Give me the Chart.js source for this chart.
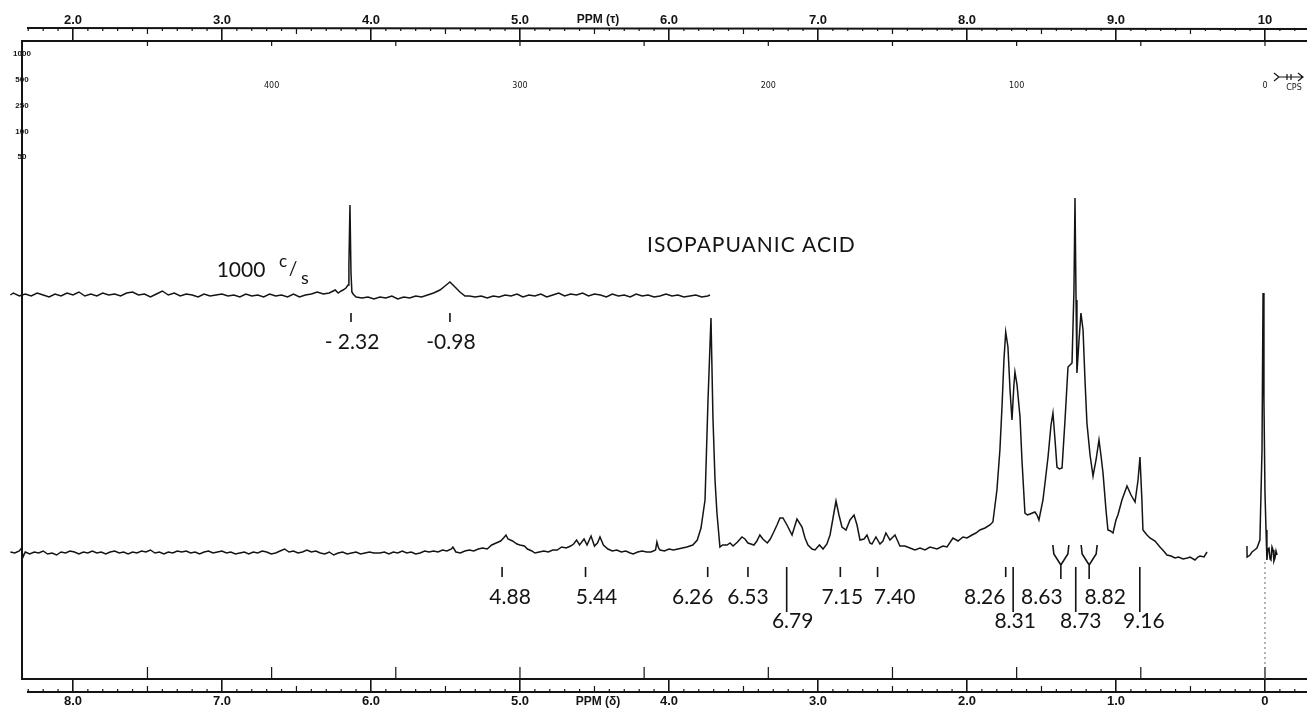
<!DOCTYPE html>
<html>
<head>
<meta charset="utf-8">
<title>Isopapuanic acid NMR</title>
<script src="https://cdn.jsdelivr.net/npm/chart.js@4.4.1/dist/chart.umd.min.js"></script>
<style>
  body { margin: 0; background: #fff; }
  #wrap { width: 1307px; height: 711px; }
</style>
</head>
<body>
<div id="wrap"><canvas id="spectrum"></canvas></div>
<script>
// axis ticks
const deltaTicks = [8, 7, 6, 5, 4, 3, 2, 1, 0];
const deltaTickLabels = ['8.0', '7.0', '6.0', '5.0', '4.0', '3.0', '2.0', '1.0', '0'];
const tauTicks = [2, 3, 4, 5, 6, 7, 8, 9, 10];
const tauTickLabels = ['2.0', '3.0', '4.0', '5.0', '6.0', '7.0', '8.0', '9.0', '10'];
const cpsTicks = [0, 50, 100, 150, 200, 250, 300, 350, 400, 450];
const cpsLabels = [400, 300, 200, 100, 0];
const sweepLabels = ['1000', '500', '250', '100', '50'];

// spectrum, [shift (ppm, delta), intensity]
const mainTrace = [
  [8.42,1],[8.39,0],[8.36,2],[8.345,5],[8.335,-4],[8.32,1],[8.29,-1],[8.26,1],[8.23,0],[8.20,2],
  [8.17,-1],[8.14,0],[8.11,-2],[8.08,1],[8.05,0],[8.02,2],[7.99,1],[7.96,-1],[7.93,1],[7.90,0],
  [7.87,2],[7.84,0],[7.81,1],[7.78,-1],[7.75,1],[7.72,2],[7.69,0],[7.66,1],[7.63,-1],[7.60,1],
  [7.57,0],[7.54,2],[7.51,1],[7.48,3],[7.45,0],[7.42,1],[7.39,-1],[7.36,1],[7.33,0],[7.30,2],
  [7.27,1],[7.24,2],[7.21,0],[7.18,1],[7.15,-1],[7.12,1],[7.09,2],[7.06,0],[7.03,1],[7.00,2],
  [6.97,0],[6.94,1],[6.91,-1],[6.88,0],[6.85,1],[6.82,-1],[6.79,1],[6.76,0],[6.73,2],[6.70,1],
  [6.67,-1],[6.64,0],[6.61,2],[6.58,4],[6.55,1],[6.52,2],[6.49,0],[6.46,1],[6.43,3],[6.40,1],
  [6.37,2],[6.34,0],[6.31,-1],[6.28,1],[6.25,-2],[6.22,0],[6.19,1],[6.16,-1],[6.13,0],[6.10,1],
  [6.07,-1],[6.04,0],[6.01,1],[5.98,0],[5.94,0],[5.91,1],[5.88,-1],[5.85,1],[5.82,0],[5.79,2],
  [5.76,0],[5.73,1],[5.70,-1],[5.67,0],[5.64,2],[5.61,1],[5.58,2],[5.55,1],[5.52,3],[5.49,2],
  [5.46,4],[5.45,6],[5.43,1],[5.40,0],[5.37,2],[5.34,3],[5.31,2],[5.28,4],[5.25,5],[5.22,4],
  [5.19,8],[5.16,10],[5.13,12],[5.11,15],[5.094,18],[5.08,14],[5.05,12],[5.02,9],[5.00,8],[4.97,7],
  [4.95,4],[4.92,2],[4.90,0],[4.87,1],[4.84,2],[4.81,1],[4.78,3],[4.75,3],[4.72,6],[4.69,5],
  [4.66,7],[4.64,9],[4.62,13],[4.60,8],[4.57,14],[4.55,8],[4.523,17],[4.50,7],[4.48,10],[4.463,16],
  [4.44,8],[4.41,4],[4.38,2],[4.35,3],[4.32,1],[4.29,2],[4.26,0],[4.24,-1],[4.21,1],[4.18,2],
  [4.15,1],[4.12,1],[4.09,3],[4.081,11],[4.07,5],[4.06,3],[4.03,2],[4.00,4],[3.97,3],[3.94,4],
  [3.91,5],[3.88,6],[3.84,8],[3.81,13],[3.785,25],[3.758,53],[3.738,153],[3.718,235],[3.705,136],[3.691,73],
  [3.678,40],[3.658,6],[3.64,8],[3.61,8],[3.59,10],[3.57,7],[3.54,11],[3.51,16],[3.49,14],[3.47,10],
  [3.45,9],[3.43,8],[3.41,12],[3.39,18],[3.37,14],[3.34,10],[3.32,14],[3.30,20],[3.275,28],[3.255,35],
  [3.235,35],[3.208,28],[3.174,18],[3.141,34],[3.107,26],[3.087,15],[3.067,8],[3.04,4],[3.02,3],[2.99,8],
  [2.966,4],[2.94,9],[2.919,18],[2.899,35],[2.879,52],[2.859,38],[2.839,26],[2.812,23],[2.785,33],[2.758,38],
  [2.738,28],[2.718,13],[2.691,14],[2.671,18],[2.651,10],[2.638,9],[2.611,16],[2.584,9],[2.564,12],[2.544,20],
  [2.517,13],[2.483,18],[2.45,7],[2.416,7],[2.383,5],[2.349,3],[2.315,5],[2.282,3],[2.248,6],[2.201,4],
  [2.161,7],[2.134,6],[2.094,15],[2.06,12],[2.027,16],[2.0,15],[1.966,18],[1.94,20],[1.913,23],[1.879,25],
  [1.846,28],[1.826,31],[1.799,63],[1.779,103],[1.765,146],[1.752,193],[1.740,221],[1.725,206],[1.711,163],[1.698,133],
  [1.685,168],[1.678,181],[1.664,168],[1.644,136],[1.631,93],[1.611,40],[1.594,38],[1.577,39],[1.544,41],[1.53,38],
  [1.517,33],[1.49,53],[1.47,78],[1.456,96],[1.436,128],[1.423,140],[1.409,113],[1.396,86],[1.379,84],[1.362,85],
  [1.342,133],[1.322,186],[1.295,190],[1.282,263],[1.275,355],[1.268,253],[1.262,180],[1.248,213],[1.235,240],[1.221,223],
  [1.208,173],[1.195,130],[1.174,98],[1.154,77],[1.134,93],[1.114,113],[1.101,98],[1.087,80],[1.067,43],[1.054,23],
  [1.037,22],[1.02,20],[1.0,33],[0.987,38],[0.96,53],[0.926,67],[0.899,58],[0.872,51],[0.852,73],[0.839,96],
  [0.826,53],[0.819,23],[0.792,18],[0.772,15],[0.738,12],[0.705,6],[0.68,2],[0.658,-2],[0.63,-3],[0.604,-5],
  [0.58,-4],[0.55,-6],[0.52,-5],[0.503,-4],[0.47,-7],[0.45,-4],[0.436,-3],[0.409,-4],[0.389,1]
];

// TMS reference line
const tmsTrace = [
  [0.121,7],[0.12,-4],[0.10,-2],[0.087,1],[0.07,3],[0.054,5],[0.034,13],[0.02,103],[0.013,260],[0.007,153],
  [0.0,60],[-0.007,23],[-0.013,-7],[-0.02,4],[-0.027,5],[-0.034,-6],[-0.04,-7],[-0.047,6],[-0.054,3],[-0.06,-8],
  [-0.067,-5],[-0.074,2],[-0.081,-2]
];

// offset sweep (1000 c/s), intensity relative to its own baseline
const offsetTrace = [
  [8.42,0],[8.40,2],[8.36,-1],[8.32,1],[8.28,-1],[8.24,2],[8.20,0],[8.16,-2],[8.12,1],[8.08,-1],
  [8.04,2],[8.00,0],[7.96,3],[7.92,-1],[7.88,1],[7.84,-1],[7.80,2],[7.76,0],[7.72,1],[7.68,-1],
  [7.64,2],[7.60,3],[7.56,0],[7.52,1],[7.48,-2],[7.44,1],[7.40,4],[7.36,0],[7.32,2],[7.28,-1],
  [7.24,1],[7.20,0],[7.16,-2],[7.12,1],[7.08,-1],[7.04,0],[7.00,1],[6.96,-1],[6.92,0],[6.88,-2],
  [6.84,1],[6.80,-1],[6.76,0],[6.72,-2],[6.68,1],[6.64,-1],[6.60,0],[6.56,-2],[6.52,1],[6.48,-2],
  [6.44,0],[6.40,1],[6.36,3],[6.32,1],[6.28,2],[6.24,5],[6.22,2],[6.20,4],[6.188,5],[6.168,7],
  [6.154,10],[6.148,30],[6.141,90],[6.134,22],[6.128,3],[6.12,1],[6.10,-2],[6.06,-3],[6.02,-2],[5.98,-4],
  [5.94,-2],[5.90,-3],[5.86,-1],[5.82,-4],[5.78,-2],[5.74,-3],[5.70,-1],[5.66,-2],[5.62,0],[5.58,2],
  [5.537,5],[5.503,9],[5.47,13],[5.436,8],[5.403,3],[5.369,-1],[5.34,-1],[5.30,-2],[5.26,-1],[5.22,-3],
  [5.18,-1],[5.14,-2],[5.10,0],[5.06,-1],[5.02,1],[4.98,-2],[4.94,0],[4.90,-1],[4.86,1],[4.82,-2],
  [4.78,0],[4.74,2],[4.70,-1],[4.66,1],[4.62,0],[4.58,2],[4.54,-1],[4.50,1],[4.46,0],[4.42,-2],
  [4.38,1],[4.34,-1],[4.30,0],[4.26,-2],[4.22,1],[4.18,-1],[4.14,0],[4.10,-2],[4.06,-1],[4.02,1],
  [3.98,-1],[3.94,0],[3.90,-2],[3.86,-1],[3.82,0],[3.78,-2],[3.74,-1],[3.725,0]
];

// assignments, tau values
const shortTickTau = [4.88, 5.44, 6.26, 6.53, 7.15, 7.40, 8.26];
const longLineTau = [6.79, 8.31, 8.73, 9.16];
const forkTau = [8.63, 8.82];
const offsetMarkAt = [6.134, 5.470];
const offsetMarkText = ['- 2.32', '-0.98'];

const offsetBase = 258;
const xMax = 8.342;
const xMin = -0.282;
const ink = '#141414';

const labelShift = { '4.88': 8, '5.44': 11, '6.26': -15, '7.15': 2, '7.40': 17, '8.26': -21,
  '6.79': 6, '8.31': 2, '8.73': 5, '9.16': 4, '8.63': -19, '8.82': 16 };

function toPoints(trace, base) {
  return trace.map(function(p) { return { x: p[0], y: p[1] + base }; });
}

function traceSet(data) {
  return { data, showLine: true, borderColor: ink, borderWidth: 1.5,
    pointRadius: 0, tension: 0, clip: false };
}

function text(ctx, str, x, y, font, align) {
  ctx.font = font;
  ctx.textAlign = align || 'center';
  ctx.textBaseline = 'middle';
  ctx.fillText(str, x, y);
}

function drawFork(ctx, x) {
  ctx.beginPath();
  ctx.moveTo(x - 8, 545); ctx.lineTo(x - 7, 554); ctx.lineTo(x, 565);
  ctx.lineTo(x + 7, 554); ctx.lineTo(x + 8, 545);
  ctx.moveTo(x, 565); ctx.lineTo(x, 579);
  ctx.stroke();
}

const decorations = {
  id: 'decorations',
  afterDraw(chart) {
    const ctx = chart.ctx;
    const xs = chart.scales.x;
    const xt = chart.scales.xTop;
    const label = '21px Lato';
    ctx.save();
    ctx.strokeStyle = ink;
    ctx.fillStyle = ink;

    // rulers
    ctx.lineWidth = 2;
    ctx.beginPath();
    ctx.moveTo(27, 28); ctx.lineTo(1307, 29);
    ctx.moveTo(27, 692); ctx.lineTo(1307, 692);
    ctx.stroke();
    ctx.lineWidth = 1.2;
    ctx.beginPath();
    for (let k = 17; k <= 102; k++) {
      if (k % 10 === 0) continue;
      const x = xt.getPixelForValue(k / 10);
      ctx.moveTo(x, 28); ctx.lineTo(x, 28 + (k % 5 === 0 ? 6 : 3));
    }
    for (let k = -2; k <= 83; k++) {
      if (k % 10 === 0) continue;
      const x = xs.getPixelForValue(k / 10);
      ctx.moveTo(x, 692); ctx.lineTo(x, 692 - (k % 5 === 0 ? 6 : 3));
    }
    cpsTicks.forEach(function(c) {
      const x = xs.getPixelForValue(c / 60);
      ctx.moveTo(x, 679); ctx.lineTo(x, 667);
      ctx.moveTo(x, 41); ctx.lineTo(x, 46);
    });
    ctx.stroke();

    cpsLabels.forEach(function(c) {
      text(ctx, String(c), xs.getPixelForValue(c / 60), 86, '8px "DejaVu Sans"');
    });
    text(ctx, 'CPS', 1294, 88, '8px "DejaVu Sans"');
    ctx.beginPath();
    ctx.moveTo(1274, 73); ctx.lineTo(1279, 77); ctx.lineTo(1274, 81);
    ctx.moveTo(1279, 77); ctx.lineTo(1303, 77);
    ctx.moveTo(1287, 74); ctx.lineTo(1287, 80);
    ctx.moveTo(1291, 74); ctx.lineTo(1291, 80);
    ctx.moveTo(1298, 73); ctx.lineTo(1303, 77); ctx.lineTo(1298, 81);
    ctx.stroke();

    sweepLabels.forEach(function(s, i) {
      text(ctx, s, 22, 54 + i * 25.8, 'bold 8px "Liberation Sans"');
    });
    text(ctx, 'PPM (\u03C4)', 598, 20, 'bold 12px "Liberation Sans"');
    text(ctx, 'PPM (\u03B4)', 598, 702, 'bold 12px "Liberation Sans"');

    // titles
    ctx.letterSpacing = '1px';
    text(ctx, 'ISOPAPUANIC ACID', 647, 245, '21px Lato', 'left');
    ctx.letterSpacing = '0px';
    text(ctx, '1000', 241, 270, label);
    text(ctx, 'c', 283, 262, '17px Lato');
    text(ctx, '/', 293, 269, '19px Lato');
    text(ctx, 's', 305, 278, '18px Lato');

    // assignments
    ctx.lineWidth = 1.6;
    ctx.beginPath();
    shortTickTau.forEach(function(t) {
      const x = xs.getPixelForValue(10 - t);
      ctx.moveTo(x, 567); ctx.lineTo(x, 577);
    });
    longLineTau.forEach(function(t) {
      const x = xs.getPixelForValue(10 - t);
      ctx.moveTo(x, 567); ctx.lineTo(x, 612);
    });
    offsetMarkAt.forEach(function(d) {
      const x = xs.getPixelForValue(d);
      ctx.moveTo(x, 313); ctx.lineTo(x, 322);
    });
    ctx.stroke();
    forkTau.forEach(function(t) { drawFork(ctx, xs.getPixelForValue(10 - t)); });

    shortTickTau.concat(forkTau).forEach(function(t) {
      const s = t.toFixed(2);
      text(ctx, s, xs.getPixelForValue(10 - t) + (labelShift[s] || 0), 597, label);
    });
    longLineTau.forEach(function(t) {
      const s = t.toFixed(2);
      text(ctx, s, xs.getPixelForValue(10 - t) + (labelShift[s] || 0), 621, label);
    });
    offsetMarkAt.forEach(function(d, i) {
      text(ctx, offsetMarkText[i], xs.getPixelForValue(d) + 1, 342, label);
    });

    // TMS pen line
    ctx.lineWidth = 1;
    ctx.strokeStyle = '#666';
    ctx.setLineDash([2, 3]);
    ctx.beginPath();
    ctx.moveTo(xs.getPixelForValue(0), 562);
    ctx.lineTo(xs.getPixelForValue(0), 679);
    ctx.stroke();
    ctx.restore();
  }
};

const tickFont = { family: 'Liberation Sans', weight: 'bold', size: 13 };

new Chart(document.getElementById('spectrum'), {
  type: 'scatter',
  data: {
    datasets: [
      traceSet(toPoints(mainTrace, 0)),
      traceSet(toPoints(tmsTrace, 0)),
      traceSet(toPoints(offsetTrace, offsetBase))
    ]
  },
  options: {
    responsive: true,
    maintainAspectRatio: false,
    devicePixelRatio: 1,
    animation: false,
    layout: { padding: 0 },
    plugins: { legend: { display: false }, tooltip: { enabled: false } },
    scales: {
      x: {
        type: 'linear', position: 'bottom', reverse: true, min: xMin, max: xMax,
        afterBuildTicks: function(s) { s.ticks = deltaTicks.map(function(v) { return { value: v }; }); },
        afterFit: function(s) { s.height = 32; },
        ticks: {
          autoSkip: false, maxRotation: 0, minRotation: 0, padding: 2, color: ink, font: tickFont,
          callback: function(v) { return deltaTickLabels[deltaTicks.indexOf(v)]; }
        },
        grid: { drawOnChartArea: false, tickLength: 13, color: ink, lineWidth: 1.6 },
        border: { display: true, color: ink, width: 2 }
      },
      xTop: {
        type: 'linear', position: 'top', min: 10 - xMax, max: 10 - xMin,
        afterBuildTicks: function(s) { s.ticks = tauTicks.map(function(v) { return { value: v }; }); },
        afterFit: function(s) { s.height = 41; },
        ticks: {
          autoSkip: false, maxRotation: 0, minRotation: 0, padding: 0, color: ink, font: tickFont,
          callback: function(v) { return tauTickLabels[tauTicks.indexOf(v)]; }
        },
        grid: { drawOnChartArea: false, tickLength: 13, color: ink, lineWidth: 1.6 },
        border: { display: true, color: ink, width: 2 }
      },
      y: {
        min: -126, max: 512,
        afterFit: function(s) { s.width = 22; },
        ticks: { display: false },
        grid: { drawOnChartArea: false, drawTicks: false },
        border: { display: true, color: ink, width: 2 }
      }
    }
  },
  plugins: [decorations]
});
</script>
</body>
</html>
